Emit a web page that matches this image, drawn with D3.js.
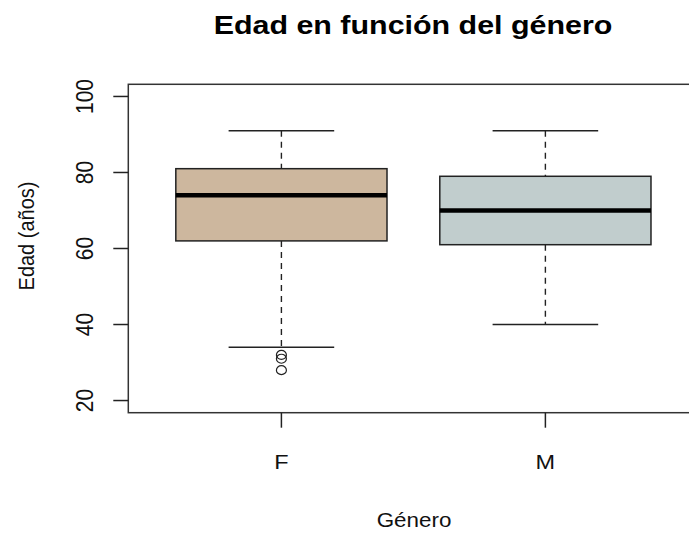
<!DOCTYPE html>
<html>
<head>
<meta charset="utf-8">
<script src="https://cdn.jsdelivr.net/npm/d3@7"></script>
<style>
  body { margin: 0; background: #fff; }
  svg { display: block; font-family: "Liberation Sans", Arial, sans-serif; }
</style>
</head>
<body>
<div id="chart"></div>
<script>
// box statistics
const categories = ["F", "M"];
const lowerWhisker = [34, 40];
const q1 = [62, 61];
const median = [74, 70];
const q3 = [81, 79];
const upperWhisker = [91, 91];
const outliers = [[32, 31, 28], []];
const fills = ["#CDB79E", "#C1CDCD"];
const yTicks = [20, 40, 60, 80, 100];

const width = 689, height = 533;
// the source picture is a little wider than tall, so text is stretched sideways
const stretch = 1.12;

const svg = d3.select("#chart").append("svg")
    .attr("width", width)
    .attr("height", height);

// R style extents: ylim 20-100 plus 4%, x 0.5..2.5 plus 4%
const x = d3.scaleLinear().domain([0.42, 2.58]).range([128.3, 698.5]);
const y = d3.scaleLinear().domain([16.8, 103.2]).range([412.7, 84.3]);

const unit = x(2) - x(1);
const boxHalf = 0.4 * unit;
const capHalf = 0.2 * unit;

const data = categories.map(function(c, i) {
  return {
    name: c, pos: i + 1,
    lo: lowerWhisker[i], q1: q1[i], med: median[i], q3: q3[i], hi: upperWhisker[i],
    out: outliers[i], fill: fills[i]
  };
});

const g = svg.selectAll(".box")
    .data(data)
    .enter().append("g")
    .attr("class", "box");

// dashed whiskers
g.append("line")
    .attr("x1", function(d) { return x(d.pos); })
    .attr("x2", function(d) { return x(d.pos); })
    .attr("y1", function(d) { return y(d.hi); })
    .attr("y2", function(d) { return y(d.q3); })
    .attr("stroke", "#222").attr("stroke-width", 1.4)
    .attr("stroke-dasharray", "6,5");
g.append("line")
    .attr("x1", function(d) { return x(d.pos); })
    .attr("x2", function(d) { return x(d.pos); })
    .attr("y1", function(d) { return y(d.q1); })
    .attr("y2", function(d) { return y(d.lo); })
    .attr("stroke", "#222").attr("stroke-width", 1.4)
    .attr("stroke-dasharray", "6,5");

// staples
["hi", "lo"].forEach(function(k) {
  g.append("line")
      .attr("x1", function(d) { return x(d.pos) - capHalf; })
      .attr("x2", function(d) { return x(d.pos) + capHalf; })
      .attr("y1", function(d) { return y(d[k]); })
      .attr("y2", function(d) { return y(d[k]); })
      .attr("stroke", "#222").attr("stroke-width", 1.5);
});

// boxes
g.append("rect")
    .attr("x", function(d) { return x(d.pos) - boxHalf; })
    .attr("width", 2 * boxHalf)
    .attr("y", function(d) { return y(d.q3); })
    .attr("height", function(d) { return y(d.q1) - y(d.q3); })
    .attr("fill", function(d) { return d.fill; })
    .attr("stroke", "#222").attr("stroke-width", 1.5);

// medians
g.append("line")
    .attr("x1", function(d) { return x(d.pos) - boxHalf; })
    .attr("x2", function(d) { return x(d.pos) + boxHalf; })
    .attr("y1", function(d) { return y(d.med); })
    .attr("y2", function(d) { return y(d.med); })
    .attr("stroke", "#000").attr("stroke-width", 4.5);

// outliers
g.each(function(d) {
  d3.select(this).selectAll("circle")
      .data(d.out)
      .enter().append("ellipse")
      .attr("cx", x(d.pos))
      .attr("cy", function(v) { return y(v); })
      .attr("rx", 5)
      .attr("ry", 4.5)
      .attr("fill", "none")
      .attr("stroke", "#222").attr("stroke-width", 1.2);
});

// plot frame
svg.append("rect")
    .attr("x", x.range()[0]).attr("y", y.range()[1])
    .attr("width", x.range()[1] - x.range()[0])
    .attr("height", y.range()[0] - y.range()[1])
    .attr("fill", "none")
    .attr("stroke", "#333").attr("stroke-width", 1.5);

// y axis
const yAxis = svg.append("g");
yAxis.selectAll("line")
    .data(yTicks)
    .enter().append("line")
    .attr("x1", x.range()[0] - 15).attr("x2", x.range()[0])
    .attr("y1", function(d) { return y(d); })
    .attr("y2", function(d) { return y(d); })
    .attr("stroke", "#222").attr("stroke-width", 1.5);
yAxis.selectAll("text")
    .data(yTicks)
    .enter().append("text")
    .attr("transform", function(d) {
      return "translate(93," + y(d) + ") scale(" + stretch + ",1) rotate(-90)";
    })
    .attr("text-anchor", "middle")
    .attr("font-size", 21)
    .attr("fill", "#111")
    .text(function(d) { return d; });

// x axis
const xAxis = svg.append("g");
xAxis.selectAll("line")
    .data(data)
    .enter().append("line")
    .attr("x1", function(d) { return x(d.pos); })
    .attr("x2", function(d) { return x(d.pos); })
    .attr("y1", y.range()[0])
    .attr("y2", y.range()[0] + 15)
    .attr("stroke", "#222").attr("stroke-width", 1.5);
xAxis.selectAll("text")
    .data(data)
    .enter().append("text")
    .attr("transform", function(d) {
      return "translate(" + x(d.pos) + ",469) scale(" + stretch + ",1)";
    })
    .attr("text-anchor", "middle")
    .attr("font-size", 21)
    .attr("fill", "#111")
    .text(function(d) { return d.name; });

// titles
svg.append("text")
    .attr("transform", "translate(413,34) scale(1.17,1)")
    .attr("text-anchor", "middle")
    .attr("font-size", 26)
    .attr("font-weight", "bold")
    .text("Edad en función del género");

svg.append("text")
    .attr("transform", "translate(414,527) scale(" + stretch + ",1)")
    .attr("text-anchor", "middle")
    .attr("font-size", 20)
    .attr("fill", "#111")
    .text("Género");

svg.append("text")
    .attr("transform", "translate(34,236) scale(" + stretch + ",1) rotate(-90)")
    .attr("text-anchor", "middle")
    .attr("font-size", 20)
    .attr("fill", "#111")
    .text("Edad (años)");
</script>
</body>
</html>
